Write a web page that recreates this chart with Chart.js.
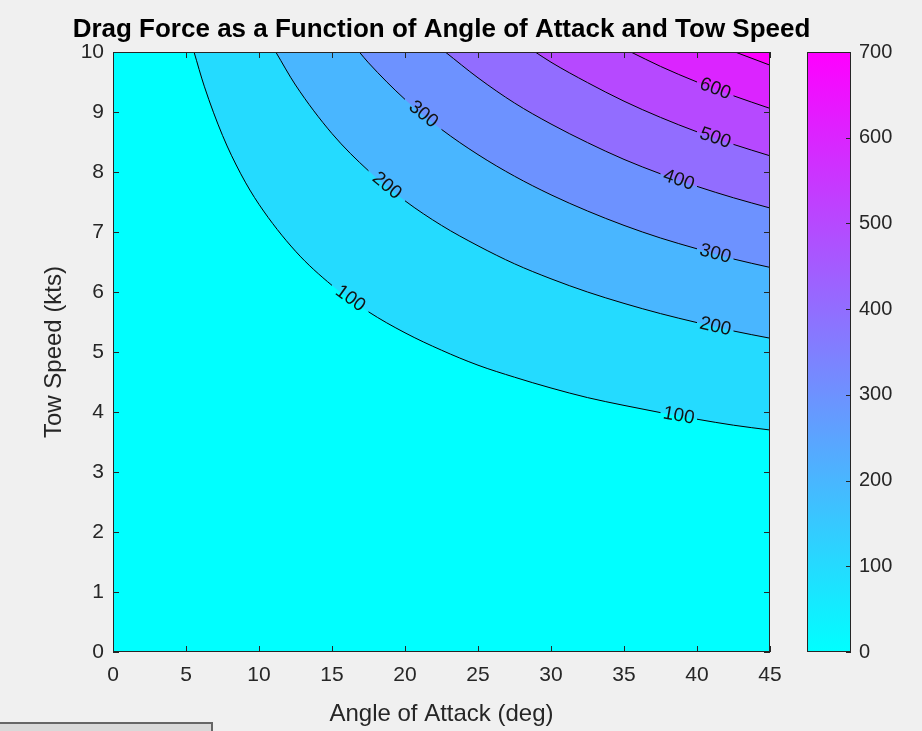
<!DOCTYPE html>
<html>
<head>
<meta charset="utf-8">
<script src="https://cdn.jsdelivr.net/npm/chart.js@4.4.0/dist/chart.umd.min.js"></script>
<style>
  html, body { margin: 0; padding: 0; background: #f0f0f0; }
  #wrap { position: relative; width: 922px; height: 731px; overflow: hidden; }
  #corner { position: absolute; left: 0; top: 722px; width: 211px; height: 20px;
            background: #d9d9d9; border: 2px solid #666; border-left: none; }
</style>
</head>
<body>
<div id="wrap">
  <canvas id="chart" width="922" height="731"></canvas>
  <div id="corner"></div>
</div>
<script>
// contour levels of the drag force
const levels = [100, 200, 300, 400, 500, 600, 700];

// angle of attack (deg) where each contour leaves the top edge (10 kts)
const topCrossAngle = [5.55, 11.15, 16.87, 22.76, 28.92, 35.47, 42.61];

const angleGrid = [5, 6.25, 7.5, 8.75, 10, 12.5, 15, 17.5, 20, 22.5, 25, 27.5, 30, 32.5, 35, 37.5, 40, 42.5, 45];
const speed100 = [null, 9.43, 8.61, 7.97, 7.46, 6.68, 6.11, 5.67, 5.32, 5.03, 4.78, 4.58, 4.40, 4.24, 4.11, 3.99, 3.88, 3.78, 3.70];
const speed200 = [null, null, null, null, null, 9.45, 8.64, 8.02, 7.52, 7.11, 6.77, 6.47, 6.22, 6.00, 5.81, 5.64, 5.49, 5.35, 5.23];
const speed300 = [null, null, null, null, null, null, null, 9.82, 9.21, 8.71, 8.29, 7.93, 7.62, 7.35, 7.11, 6.90, 6.72, 6.55, 6.41];
const speed400 = [null, null, null, null, null, null, null, null, null, null, 9.57, 9.15, 8.80, 8.49, 8.21, 7.97, 7.76, 7.57, 7.40];
const speed500 = [null, null, null, null, null, null, null, null, null, null, null, null, 9.83, 9.49, 9.18, 8.91, 8.67, 8.46, 8.27];
const speed600 = [null, null, null, null, null, null, null, null, null, null, null, null, null, null, null, 9.76, 9.50, 9.27, 9.06];
const speed700 = [null, null, null, null, null, null, null, null, null, null, null, null, null, null, null, null, null, null, 9.78];
const speedSeries = [speed100, speed200, speed300, speed400, speed500, speed600, speed700];

// inline labels: the grid angle where the gap for the label starts
const labelGaps = {100: [15, 37.5], 200: [17.5, 40], 300: [20, 40], 400: [37.5], 500: [40], 600: [40]};

const xTicks = [0, 5, 10, 15, 20, 25, 30, 35, 40, 45];
const yTicks = [0, 1, 2, 3, 4, 5, 6, 7, 8, 9, 10];
const colorbarTicks = [0, 100, 200, 300, 400, 500, 600, 700];

const TITLE = 'Drag Force as a Function of Angle of Attack and Tow Speed';
const FONT = "'Liberation Sans', Arial, Helvetica, sans-serif";
const AXIS_COLOR = '#262626';
const cool = t => `rgb(${Math.round(255 * t)},${Math.round(255 * (1 - t))},255)`;

function contourPoints(i) {
    const pts = [{x: topCrossAngle[i], y: 10}];
    speedSeries[i].forEach((v, j) => {
        if (v !== null) pts.push({x: angleGrid[j], y: v});
    });
    return pts;
}

// filled bands (everything above each level), drawn lowest level first
const bandSets = levels.map((lvl, i) => ({
    label: 'band ' + lvl,
    data: contourPoints(i),
    showLine: true,
    pointRadius: 0,
    borderWidth: 0,
    borderColor: 'rgba(0,0,0,0)',
    backgroundColor: cool((i + 1) / levels.length),
    fill: 'end',
    cubicInterpolationMode: 'monotone',
    order: 100 + levels.length - i
}));

// black contour lines with gaps where the labels sit
const lineSets = levels.map((lvl, i) => {
    const data = contourPoints(i);
    const gaps = (labelGaps[lvl] || []).map(a => data.findIndex(p => p.x === a));
    return {
        label: String(lvl),
        data,
        gaps,
        showLine: true,
        pointRadius: 0,
        borderColor: '#000',
        borderWidth: 1,
        fill: false,
        cubicInterpolationMode: 'monotone',
        order: 1,
        segment: {
            borderColor: ctx => gaps.includes(ctx.p0DataIndex) ? 'rgba(0,0,0,0)' : '#000'
        }
    };
});

const plotBackground = {
    id: 'plotBackground',
    beforeDatasetsDraw(chart) {
        const {ctx, chartArea: a} = chart;
        ctx.save();
        ctx.fillStyle = cool(0);
        ctx.fillRect(a.left, a.top, a.right - a.left, a.bottom - a.top);
        ctx.restore();
    }
};

const frame = {
    id: 'frame',
    afterDatasetsDraw(chart) {
        const {ctx, chartArea: a, scales} = chart;
        ctx.save();

        // contour labels
        ctx.font = `19px ${FONT}`;
        ctx.fillStyle = '#111';
        ctx.textAlign = 'center';
        ctx.textBaseline = 'middle';
        chart.data.datasets.forEach((ds, i) => {
            if (!ds.gaps) return;
            const meta = chart.getDatasetMeta(i);
            ds.gaps.forEach(g => {
                const p0 = meta.data[g], p1 = meta.data[g + 1];
                ctx.save();
                ctx.translate((p0.x + p1.x) / 2, (p0.y + p1.y) / 2);
                ctx.rotate(Math.atan2(p1.y - p0.y, p1.x - p0.x));
                ctx.fillText(ds.label, 0, 0);
                ctx.restore();
            });
        });

        // axes box and inward ticks
        ctx.strokeStyle = AXIS_COLOR;
        ctx.lineWidth = 1;
        ctx.strokeRect(a.left + 0.5, a.top + 0.5, a.right - a.left - 1, a.bottom - a.top - 1);
        ctx.beginPath();
        xTicks.forEach(v => {
            const x = Math.round(scales.x.getPixelForValue(v)) + 0.5;
            ctx.moveTo(x, a.bottom); ctx.lineTo(x, a.bottom - 6);
            ctx.moveTo(x, a.top); ctx.lineTo(x, a.top + 6);
        });
        yTicks.forEach(v => {
            const y = Math.round(scales.y.getPixelForValue(v)) + 0.5;
            ctx.moveTo(a.left, y); ctx.lineTo(a.left + 6, y);
            ctx.moveTo(a.right, y); ctx.lineTo(a.right - 6, y);
        });
        ctx.stroke();

        // colorbar
        const cb = scales.cbar;
        const left = 807, right = 851;
        const top = cb.getPixelForValue(700), bottom = cb.getPixelForValue(0);
        const grad = ctx.createLinearGradient(0, bottom, 0, top);
        grad.addColorStop(0, cool(0));
        grad.addColorStop(1, cool(1));
        ctx.fillStyle = grad;
        ctx.fillRect(left, top, right - left, bottom - top);
        ctx.strokeRect(left + 0.5, top + 0.5, right - left - 1, bottom - top - 1);
        ctx.beginPath();
        colorbarTicks.forEach(v => {
            const y = Math.round(cb.getPixelForValue(v)) + 0.5;
            ctx.moveTo(right, y); ctx.lineTo(right - 5, y);
        });
        ctx.stroke();

        // title, centred over the plot but allowed to run past its edges
        ctx.font = `bold 26px ${FONT}`;
        ctx.fillStyle = '#000';
        ctx.textAlign = 'center';
        ctx.textBaseline = 'alphabetic';
        ctx.fillText(TITLE, (a.left + a.right) / 2, 37);
        ctx.restore();
    }
};

const tickFont = {family: FONT, size: 21};
const titleFont = {family: FONT, size: 24};
// keep the tick label overhang from pushing the plot area around
const noOverhang = s => { s.paddingTop = 0; s.paddingBottom = 0; s.paddingLeft = 0; s.paddingRight = 0; };

new Chart(document.getElementById('chart'), {
    type: 'scatter',
    data: {datasets: [...bandSets, ...lineSets]},
    options: {
        responsive: false,
        animation: false,
        events: [],
        layout: {padding: {top: 52}},
        plugins: {
            legend: {display: false},
            tooltip: {enabled: false},
            title: {display: false}
        },
        scales: {
            x: {
                type: 'linear', min: 0, max: 45,
                grid: {display: false, drawTicks: false},
                border: {display: false},
                ticks: {font: tickFont, color: AXIS_COLOR, padding: 11},
                afterBuildTicks: s => { s.ticks = xTicks.map(value => ({value})); },
                afterFit: s => { s.height = 79; noOverhang(s); },
                title: {display: true, text: 'Angle of Attack (deg)', color: AXIS_COLOR,
                        font: titleFont, padding: {top: 0, bottom: 2}}
            },
            y: {
                type: 'linear', min: 0, max: 10, position: 'left',
                grid: {display: false, drawTicks: false},
                border: {display: false},
                ticks: {font: tickFont, color: AXIS_COLOR, padding: 9},
                afterBuildTicks: s => { s.ticks = yTicks.map(value => ({value})); },
                afterFit: s => { s.width = 113; noOverhang(s); },
                title: {display: true, text: 'Tow Speed (kts)', color: AXIS_COLOR,
                        font: titleFont, padding: {top: 40, bottom: 0}}
            },
            cbar: {
                type: 'linear', min: 0, max: 700, position: 'right',
                grid: {display: false, drawTicks: false},
                border: {display: false},
                ticks: {font: {family: FONT, size: 20}, color: AXIS_COLOR, padding: 89},
                afterBuildTicks: s => { s.ticks = colorbarTicks.map(value => ({value})); },
                afterFit: s => { s.width = 152; noOverhang(s); }
            }
        }
    },
    plugins: [plotBackground, frame]
});
</script>
</body>
</html>
